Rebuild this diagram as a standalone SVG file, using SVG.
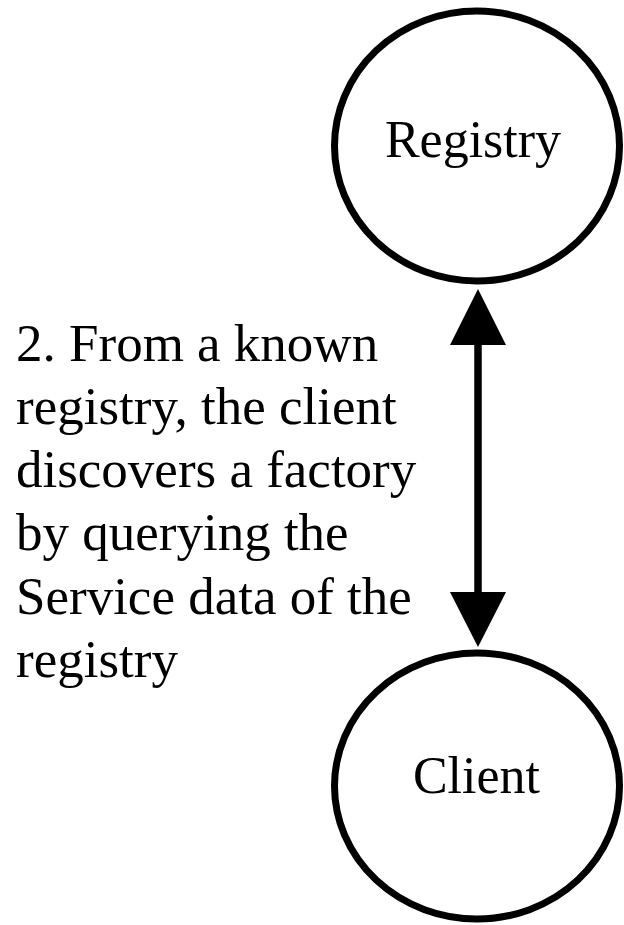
<svg xmlns="http://www.w3.org/2000/svg" width="624" height="925" viewBox="0 0 624 925">
<style>
.node{fill:#fff;stroke:#000;stroke-width:7}
.t{font-family:"Liberation Serif","Times New Roman",serif;fill:#000}
.nl{font-size:52px;text-anchor:middle}
.lbl{font-size:53px}
.conn{stroke:#000;stroke-width:7.5;fill:none}
.head{fill:#000}
</style>
<rect width="624" height="925" fill="#fff"/>
<g id="registry">
<ellipse class="node" cx="477" cy="146" rx="142.5" ry="135"/>
<text class="t nl" x="473" y="157">Registry</text>
</g>
<g id="client">
<ellipse class="node" cx="477" cy="786" rx="142.5" ry="133"/>
<text class="t nl" x="476.5" y="793">Client</text>
</g>
<g id="connectors">
<line class="conn" x1="478" y1="340" x2="478" y2="597"/>
<polygon class="head" points="478,289 506,345 450,345"/>
<polygon class="head" points="478,647 506,592 450,592"/>
</g>
<g id="label">
<text class="t lbl" x="16" y="361">2. From a known</text>
<text class="t lbl" x="16" y="424">registry, the client</text>
<text class="t lbl" x="16" y="487">discovers a factory</text>
<text class="t lbl" x="16" y="550">by querying the</text>
<text class="t lbl" x="16" y="614">Service data of the</text>
<text class="t lbl" x="16" y="677">registry</text>
</g>
</svg>
